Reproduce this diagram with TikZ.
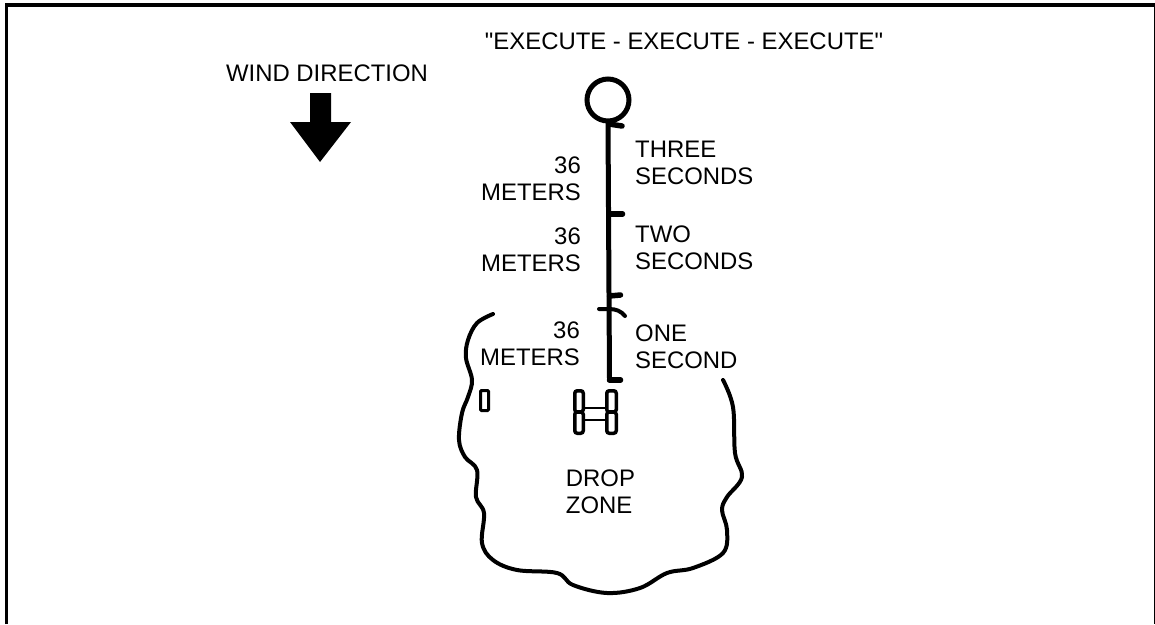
\documentclass[tikz,border=0pt]{standalone}
\usepackage{fontspec}
\setmainfont{Liberation Sans}[Ligatures=TeXOff]
\usepackage{tikz}
\usetikzlibrary{positioning,arrows.meta,calc}
\tikzset{
  lbl/.style={inner sep=0pt, font=\fontsize{23.9}{27}\selectfont, align=left, anchor=west},
  lbr/.style={inner sep=0pt, font=\fontsize{23.9}{27}\selectfont, align=right, anchor=east},
  stem/.style={line width=5pt, line cap=round},
  tick/.style={line width=5.5pt, line cap=round},
  outl/.style={line width=4pt, line cap=round, line join=round},
  veh/.style={draw, line width=3.5pt, rounded corners=2.5pt, inner sep=0pt},
}

\begin{document}
\begin{tikzpicture}[x=1pt, y=-1pt]
\useasboundingbox (0,0) rectangle (1155,624);
% frame
\draw[line width=3.4pt] (6.6,624) -- (6.6,5) -- (1155.5,5) -- (1155.5,624);
% header texts
\node[lbl, anchor=center] (cmd) at (684,41) {"EXECUTE - EXECUTE - EXECUTE"};
\node[lbl, anchor=center] (wind) at (327,73) {WIND DIRECTION};
\fill (310,93) -- (331,93) -- (331,122) -- (351,122) -- (320,162) -- (290,122) -- (310,122) -- cycle;
% impact point and stem
\node[draw, circle, line width=5pt, minimum size=42pt, inner sep=0pt] (ip) at (608,100) {};
\coordinate (tk0) at (609.5,380);
\coordinate (tk3) at (609,124);
\coordinate (tk2) at (609.5,214);
\coordinate (tk1) at (609.5,296);
\draw[stem] (ip.south) -- (tk0);
\draw[tick] (tk3) -- ++(13,2);
\draw[tick] (tk2) -- ++(13,0);
\draw[tick] (tk1) -- ++(11,-1);
\draw[tick] (tk0) -- ++(11,0);
\draw[line width=4pt, line cap=round] (599,309) -- (609,309) .. controls (616,309) and (621,311) .. (625,316);
% labels
\node[lbr] (m3) at (581,178.5) {36\\METERS};
\node[lbr] (m2) at (581,250) {36\\METERS};
\node[lbr] (m1) at (580,344) {36\\METERS};
\node[lbl] (s3) at (635,162.5) {THREE\\SECONDS};
\node[lbl] (s2) at (635,248) {TWO\\SECONDS};
\node[lbl] (s1) at (635,347) {ONE\\SECOND};
\node[lbl, anchor=center] (dz) at (600.5,492) {DROP\\ZONE};
% drop zone outline
\draw[outl] plot[smooth, tension=0.6] coordinates {(493,314) (477,323) (468,340) (466,358) (472,380) (468,397) (462,413) (459,440) (465,457) (477,470) (476,497) (484,513) (482,543) (493,560) (517,570) (557,573) (573,585) (607,593) (640,588) (667,573) (693,568) (723,553) (727,530) (722,510) (727,497) (742,477) (735,453) (733,407) (723,380)};
% vehicle marks
\node[veh, line width=3pt, rounded corners=1pt, minimum width=8pt, minimum height=20pt] (mk) at (484.5,400.5) {};
\node[veh, minimum width=8.5pt, minimum height=21.3pt] (la) at (579,401.4) {};
\node[veh, minimum width=8.5pt, minimum height=21.3pt] (lb) at (579,422.6) {};
\node[veh, minimum width=9.5pt, minimum height=21.3pt] (ra) at (611.5,401.4) {};
\node[veh, minimum width=9.5pt, minimum height=21.3pt] (rb) at (611.5,422.6) {};
\draw[line width=2.6pt] (la.east |- 0,408) -- (ra.west |- 0,408);
\draw[line width=2.6pt] (la.east |- 0,420) -- (ra.west |- 0,420);
\end{tikzpicture}
\end{document}
